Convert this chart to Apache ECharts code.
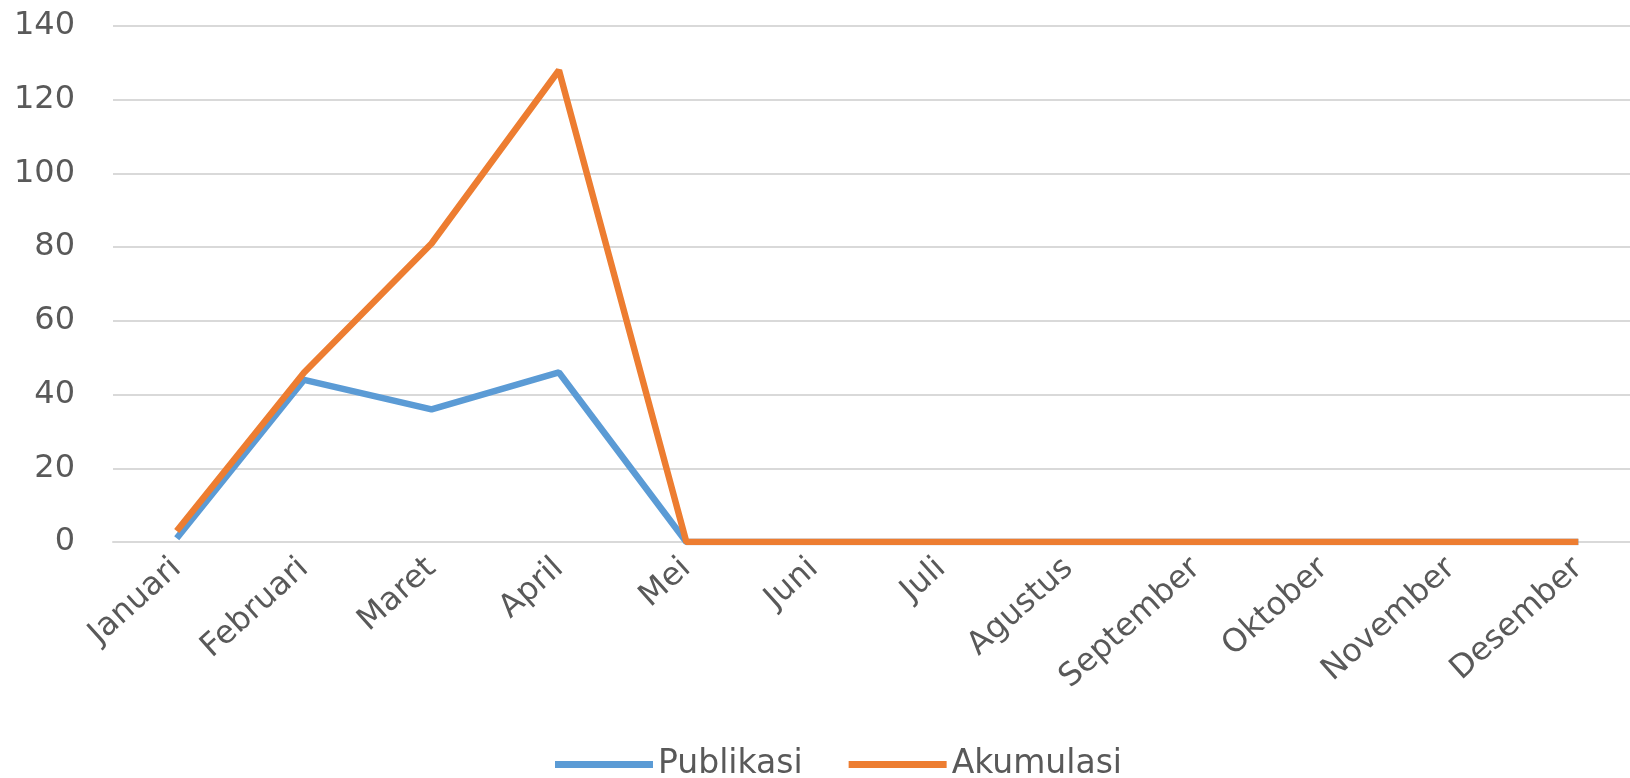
<!DOCTYPE html>
<html>
<head>
<meta charset="utf-8">
<script src="https://cdn.jsdelivr.net/npm/echarts@6/dist/echarts.min.js"></script>
<style>html,body{margin:0;padding:0;background:#fff;overflow:hidden;width:1630px;height:778px}#c{width:1660px;height:778px}</style>
</head>
<body>
<div id="c"></div>
<script>
const categories = ['Januari','Februari','Maret','April','Mei','Juni','Juli','Agustus','September','Oktober','November','Desember'];
const publikasi = [1, 44, 36, 46, 0, 0, 0, 0, 0, 0, 0, 0];
const akumulasi = [3, 46, 81, 128, 0, 0, 0, 0, 0, 0, 0, 0];
const yTicks = {min: 0, max: 140, interval: 20};

const chart = echarts.init(document.getElementById('c'));
const font = 'DejaVu Sans, sans-serif';
chart.setOption({
  animation: false,
  backgroundColor: '#fff',
  grid: {left: 113, right: 18, top: 26, bottom: 236, containLabel: false},
  legend: {
    top: 743, left: 550, itemWidth: 98, itemHeight: 7, itemGap: 46,
    icon: 'rect',
    textStyle: {fontFamily: font, fontSize: 33, color: '#595959'},
    data: ['Publikasi','Akumulasi']
  },
  xAxis: {
    type: 'category', data: categories, boundaryGap: true,
    axisLine: {show: true, lineStyle: {color: '#d9d9d9', width: 2}},
    axisTick: {show: false},
    axisLabel: {rotate: 42, margin: 22, fontFamily: font, fontSize: 32, color: '#595959', interval: 0}
  },
  yAxis: {
    type: 'value', min: yTicks.min, max: yTicks.max, interval: yTicks.interval,
    axisLine: {show: false}, axisTick: {show: false},
    splitLine: {lineStyle: {color: '#d9d9d9', width: 2}},
    axisLabel: {margin: 38, fontFamily: font, fontSize: 32, color: '#595959'}
  },
  series: [
    {name: 'Publikasi', type: 'line', data: publikasi, symbol: 'none',
     lineStyle: {color: '#5B9BD5', width: 6.5}, itemStyle: {color: '#5B9BD5'}},
    {name: 'Akumulasi', type: 'line', data: akumulasi, symbol: 'none',
     lineStyle: {color: '#ED7D31', width: 6.5}, itemStyle: {color: '#ED7D31'}}
  ]
});
</script>
</body>
</html>
